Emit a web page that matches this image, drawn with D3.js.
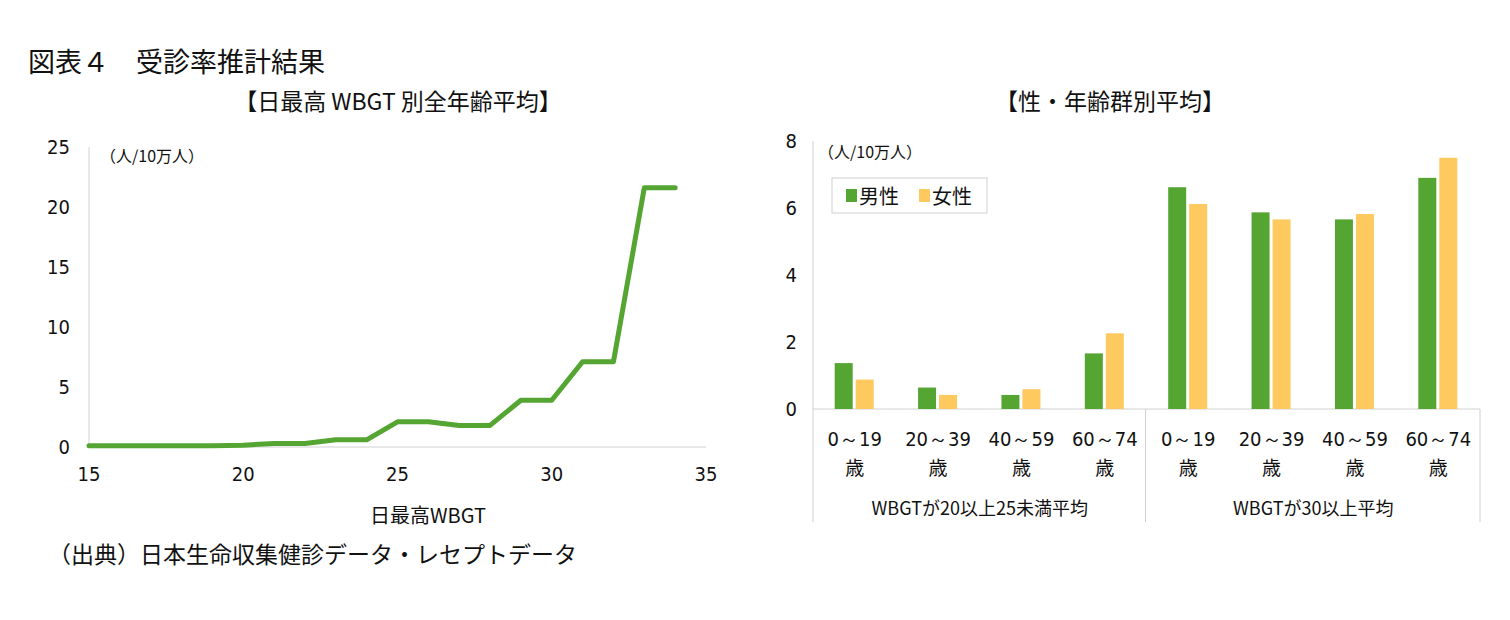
<!DOCTYPE html>
<html><head><meta charset="utf-8">
<script src="https://cdn.jsdelivr.net/npm/d3@7"></script>
<style>
body{margin:0;background:#fff;}
text{font-family:"Noto Sans CJK JP","Noto Sans",sans-serif;fill:#111;}
.num{font-family:"DejaVu Sans Condensed","DejaVu Sans",sans-serif;font-stretch:condensed;}
</style></head>
<body><svg id="c" width="1510" height="620"></svg>
<script>
// left chart data
const wbgt = d3.range(15, 35);
const rate = [0.1,0.1,0.1,0.1,0.1,0.15,0.3,0.3,0.6,0.6,2.1,2.1,1.8,1.8,3.9,3.9,7.1,7.1,21.6,21.6];
const xTicks = [15,20,25,30,35];
const yTicksL = [0,5,10,15,20,25];
// right chart data
const groups = ["WBGTが20以上25未満平均", "WBGTが30以上平均"];
const ages = ["0～19", "20～39", "40～59", "60～74"];
const male = [1.37,0.64,0.42,1.66, 6.62,5.87,5.66,6.9];
const female = [0.88,0.42,0.59,2.26, 6.12,5.66,5.82,7.5];
const yTicksR = [0,2,4,6,8];

const green = "#55a532", yellow = "#fec95f", axisCol = "#d0d0d0";
const svg = d3.select("#c");

svg.append("text").attr("x", 28).attr("y", 72).attr("font-size", 27).text("図表４　受診率推計結果");
svg.append("text").attr("x", 398).attr("y", 110).attr("font-size", 23).attr("text-anchor", "middle").text("【日最高 WBGT 別全年齢平均】");
svg.append("text").attr("x", 1110).attr("y", 110).attr("font-size", 23).attr("text-anchor", "middle").text("【性・年齢群別平均】");
svg.append("text").attr("x", 48).attr("y", 563).attr("font-size", 23).text("（出典）日本生命収集健診データ・レセプトデータ");

// left line chart
const x = d3.scaleLinear().domain([15, 35]).range([89, 706]);
const y = d3.scaleLinear().domain([0, 25]).range([447, 147]);
svg.append("line").attr("x1", 89).attr("x2", 89).attr("y1", 147).attr("y2", 447).attr("stroke", axisCol);
svg.append("line").attr("x1", 89).attr("x2", 706).attr("y1", 447).attr("y2", 447).attr("stroke", axisCol);
svg.selectAll(".yl").data(yTicksL).join("text").attr("class", "num")
  .attr("x", 70).attr("y", d => y(d) + 7).attr("text-anchor", "end").attr("font-size", 20).text(d => d);
svg.selectAll(".xl").data(xTicks).join("text").attr("class", "num")
  .attr("x", d => x(d)).attr("y", 481).attr("text-anchor", "middle").attr("font-size", 20).text(d => d);
svg.append("text").attr("x", 100).attr("y", 162).attr("font-size", 16).text("（人/10万人）");
svg.append("text").attr("x", 428).attr("y", 523).attr("font-size", 20).attr("text-anchor", "middle").text("日最高WBGT");
svg.append("path").datum(wbgt.map((d, i) => [d, rate[i]]))
  .attr("d", d3.line().x(d => x(d[0])).y(d => y(d[1])))
  .attr("fill", "none").attr("stroke", green).attr("stroke-width", 5).attr("stroke-linecap", "round").attr("stroke-linejoin", "round");

// right bar chart
const L = 813, R = 1480;
const cats = d3.range(8);
const xb = d3.scaleBand().domain(cats).range([L, R]);
const yb = d3.scaleLinear().domain([0, 8]).range([409, 141]);
const bw = 18;
svg.append("line").attr("x1", L).attr("x2", L).attr("y1", 141).attr("y2", 522).attr("stroke", axisCol);
svg.append("line").attr("x1", L).attr("x2", R).attr("y1", 409).attr("y2", 409).attr("stroke", axisCol);
svg.append("line").attr("x1", (L + R) / 2 - 1).attr("x2", (L + R) / 2 - 1).attr("y1", 409).attr("y2", 522).attr("stroke", axisCol);
svg.append("line").attr("x1", R).attr("x2", R).attr("y1", 409).attr("y2", 522).attr("stroke", axisCol);
svg.selectAll(".yr").data(yTicksR).join("text").attr("class", "num")
  .attr("x", 797).attr("y", d => yb(d) + 7).attr("text-anchor", "end").attr("font-size", 20).text(d => d);
svg.append("text").attr("x", 818).attr("y", 158).attr("font-size", 16).text("（人/10万人）");
svg.selectAll(".bm").data(cats).join("rect")
  .attr("x", d => xb(d) + xb.bandwidth() / 2 - bw - 2).attr("width", bw)
  .attr("y", d => yb(male[d])).attr("height", d => yb(0) - yb(male[d])).attr("fill", green);
svg.selectAll(".bf").data(cats).join("rect")
  .attr("x", d => xb(d) + xb.bandwidth() / 2 + 1).attr("width", bw)
  .attr("y", d => yb(female[d])).attr("height", d => yb(0) - yb(female[d])).attr("fill", yellow);
svg.selectAll(".ca").data(cats).join("text").attr("class", "num")
  .attr("x", d => xb(d) + xb.bandwidth() / 2).attr("y", 446).attr("text-anchor", "middle").attr("font-size", 20)
  .text(d => ages[d % 4]);
svg.selectAll(".cs").data(cats).join("text")
  .attr("x", d => xb(d) + xb.bandwidth() / 2).attr("y", 475).attr("text-anchor", "middle").attr("font-size", 19).text("歳");
svg.selectAll(".gl").data(groups).join("text")
  .attr("x", (d, i) => L + (R - L) / 4 * (1 + 2 * i)).attr("y", 515).attr("text-anchor", "middle").attr("font-size", 18).text(d => d);

// legend
const lg = svg.append("g").attr("transform", "translate(832,178)");
lg.append("rect").attr("width", 155).attr("height", 35).attr("fill", "#fff").attr("stroke", "#d0d0d0");
[["男性", green], ["女性", yellow]].forEach(([t, c], i) => {
  lg.append("rect").attr("x", 14 + i * 73).attr("y", 11).attr("width", 11).attr("height", 13).attr("fill", c);
  lg.append("text").attr("x", 27 + i * 73).attr("y", 26).attr("font-size", 20).text(t);
});
</script></body></html>
